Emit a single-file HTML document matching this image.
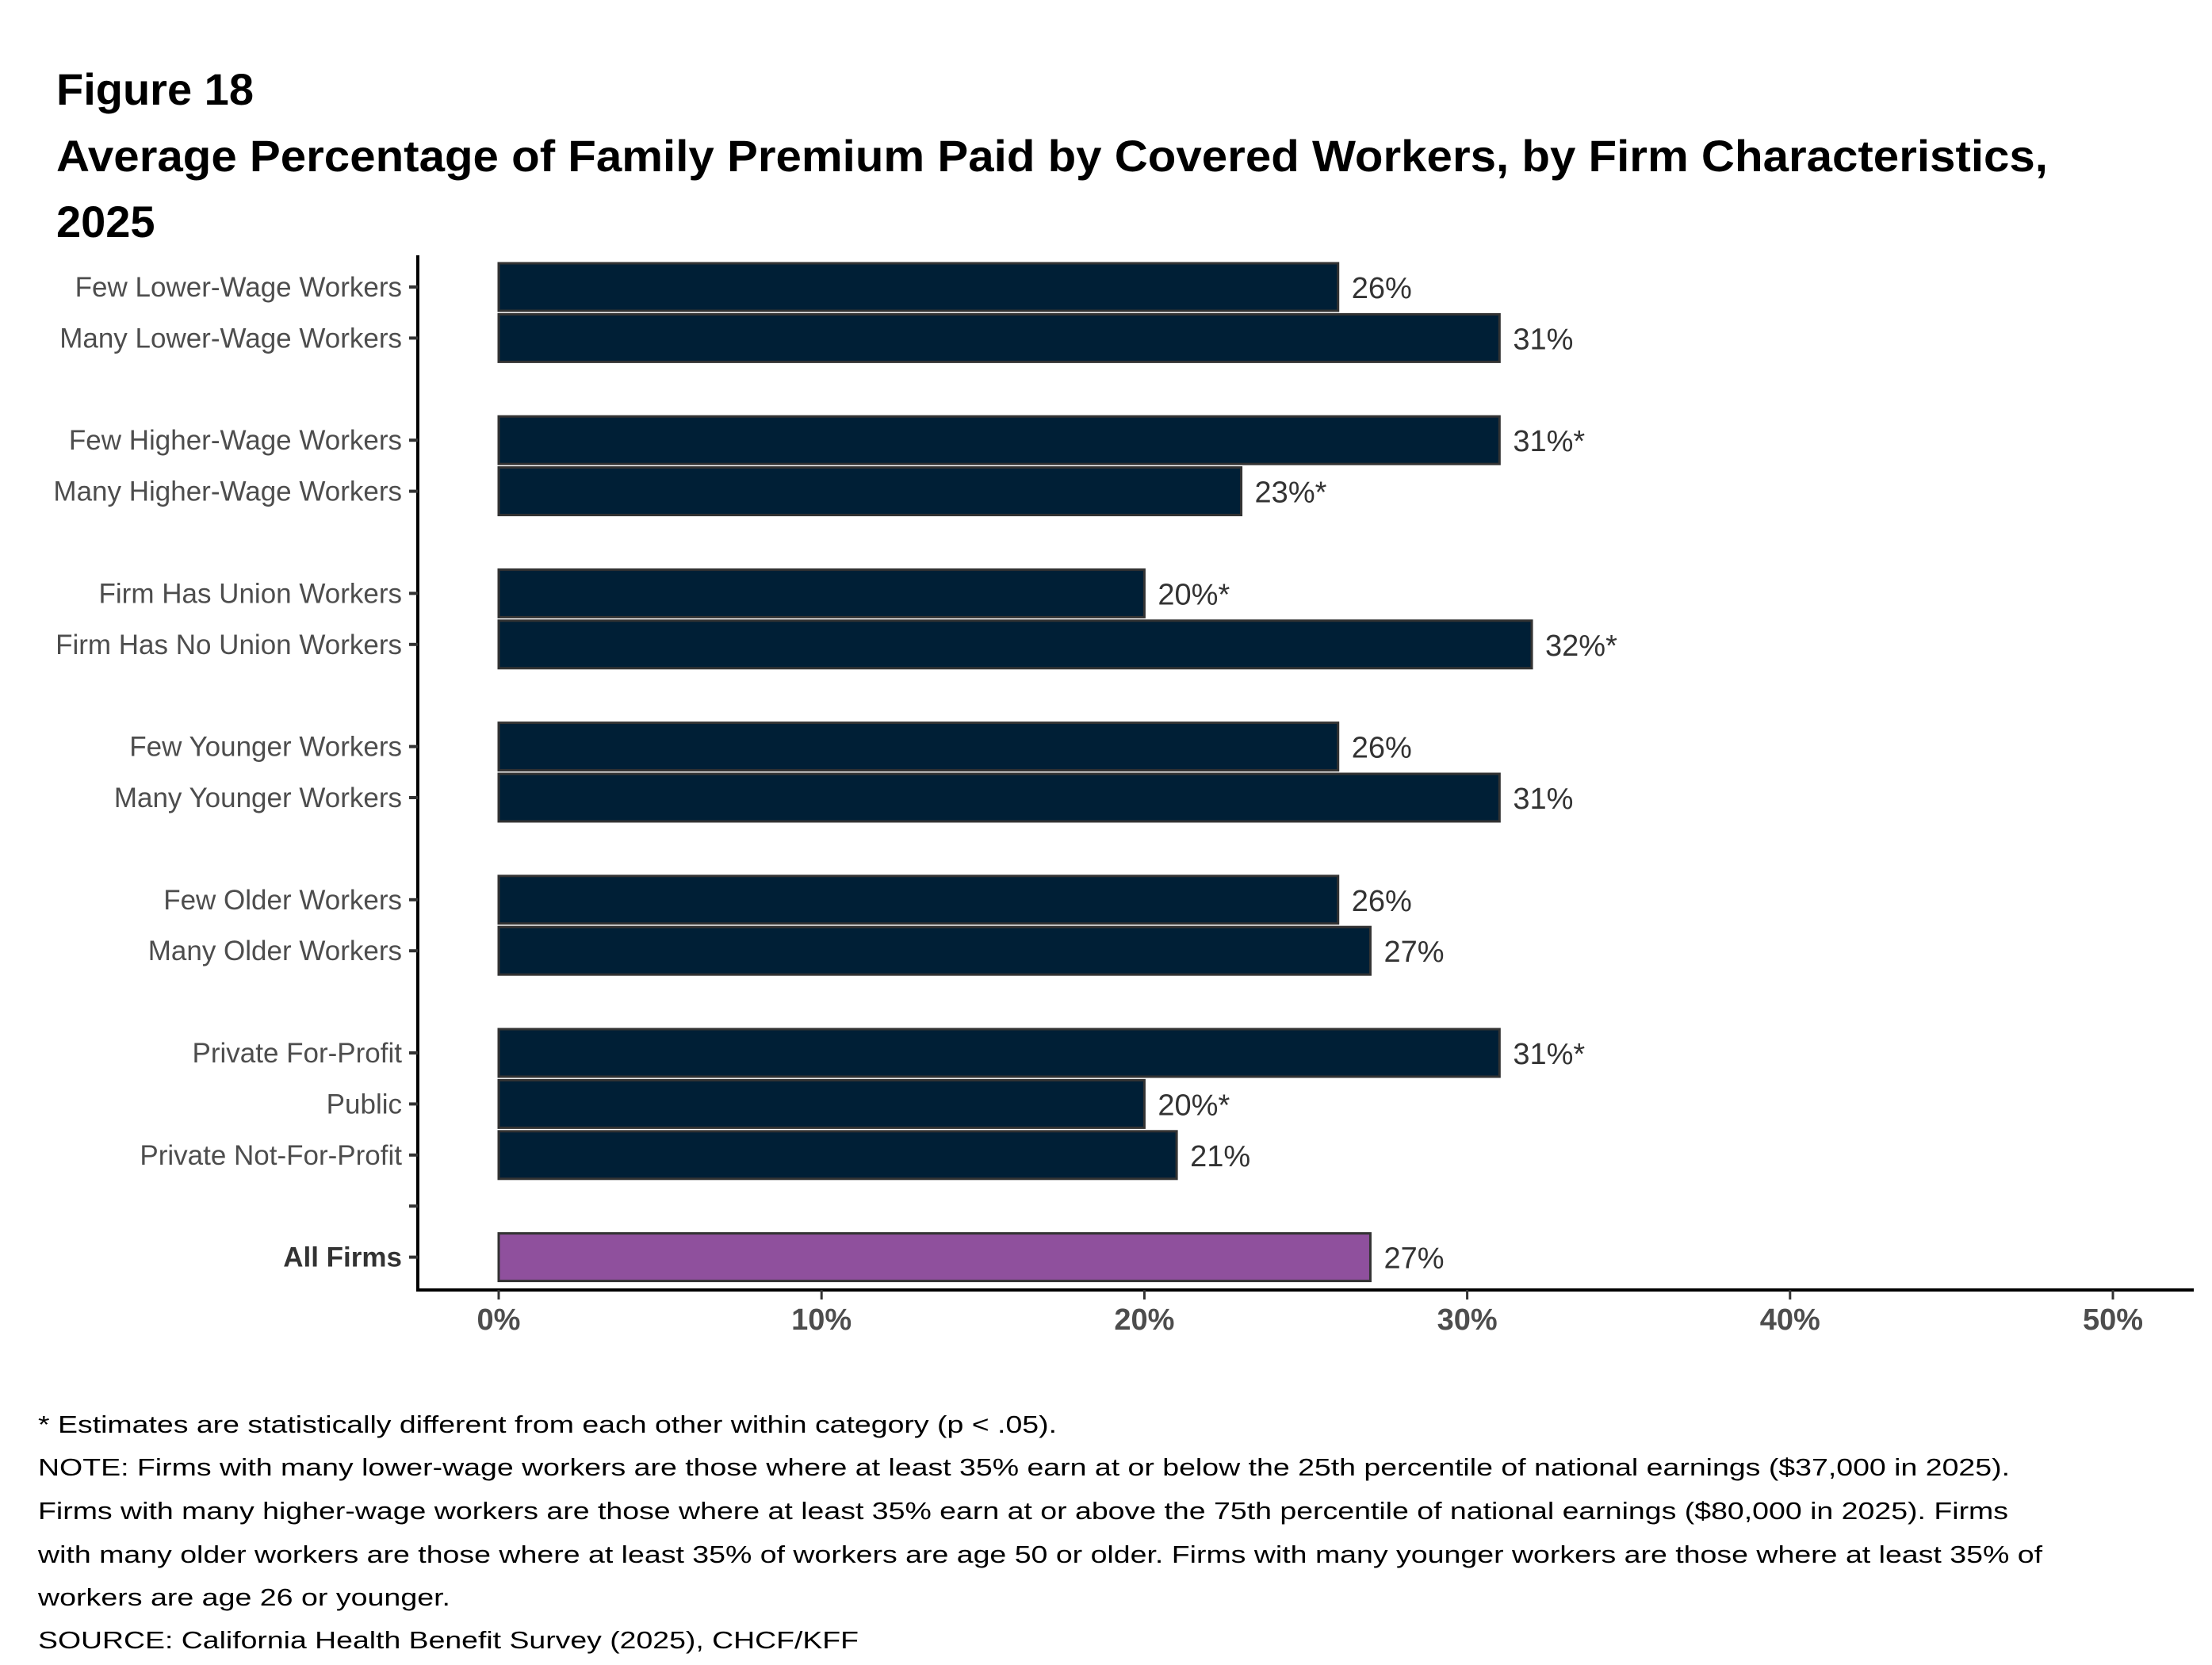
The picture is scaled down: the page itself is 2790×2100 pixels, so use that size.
<!DOCTYPE html>
<html><head><meta charset="utf-8"><style>
html,body{margin:0;padding:0;background:#fff;}
svg{display:block;font-family:"Liberation Sans",Arial,sans-serif;}
</style></head><body>
<svg id="chart" width="2790" height="2100" viewBox="0 0 2790 2100" xmlns="http://www.w3.org/2000/svg">
<g font-weight="bold" font-size="56" fill="#000">
<text x="71" y="132">Figure 18</text>
<text x="71" y="216" textLength="2512" lengthAdjust="spacingAndGlyphs">Average Percentage of Family Premium Paid by Covered Workers, by Firm Characteristics,</text>
<text x="71" y="299">2025</text>
</g>
<g id="plot"></g>
<g font-size="31" fill="#000">
<text x="48" y="1807" textLength="1285" lengthAdjust="spacingAndGlyphs">* Estimates are statistically different from each other within category (p &lt; .05).</text>
<text x="48" y="1861" textLength="2487" lengthAdjust="spacingAndGlyphs">NOTE: Firms with many lower-wage workers are those where at least 35% earn at or below the 25th percentile of national earnings ($37,000 in 2025).</text>
<text x="48" y="1916" textLength="2485" lengthAdjust="spacingAndGlyphs">Firms with many higher-wage workers are those where at least 35% earn at or above the 75th percentile of national earnings ($80,000 in 2025). Firms</text>
<text x="48" y="1971" textLength="2528" lengthAdjust="spacingAndGlyphs">with many older workers are those where at least 35% of workers are age 50 or older. Firms with many younger workers are those where at least 35% of</text>
<text x="48" y="2025" textLength="520" lengthAdjust="spacingAndGlyphs">workers are age 26 or younger.</text>
<text x="48" y="2079" textLength="1035" lengthAdjust="spacingAndGlyphs">SOURCE: California Health Benefit Survey (2025), CHCF/KFF</text>
</g>
</svg>
<script>
const categories = ["Few Lower-Wage Workers","Many Lower-Wage Workers","Few Higher-Wage Workers","Many Higher-Wage Workers","Firm Has Union Workers","Firm Has No Union Workers","Few Younger Workers","Many Younger Workers","Few Older Workers","Many Older Workers","Private For-Profit","Public","Private Not-For-Profit","All Firms"];
const values = [26,31,31,23,20,32,26,31,26,27,31,20,21,27];
const valueLabels = ["26%","31%","31%*","23%*","20%*","32%*","26%","31%","26%","27%","31%*","20%*","21%","27%"];
const slots = [0,1,3,4,6,7,9,10,12,13,15,16,17,19];
const xTicks = [0,10,20,30,40,50];
const xTickLabels = ["0%","10%","20%","30%","40%","50%"];

const NS = "http://www.w3.org/2000/svg";
const plot = document.getElementById("plot");
const x = v => 629 + v * 40.72;
const y = s => 362 + s * 64.4;
function mk(tag, attrs){const e=document.createElementNS(NS,tag);for(const k in attrs)e.setAttribute(k,attrs[k]);plot.appendChild(e);return e;}

const ya = mk("line",{x1:527,y1:322,x2:527,y2:1627,stroke:"#000","stroke-width":4});


const xa = mk("line",{x1:525,y1:1627,x2:2767,y2:1627,stroke:"#000","stroke-width":4});


const et = mk("line",{x1:516,y1:y(18),x2:527,y2:y(18),stroke:"#333","stroke-width":4});



categories.forEach((c,i)=>{
  const cy = y(slots[i]);
  const last = i === categories.length-1;
  const r = mk("rect",{x:x(0),y:cy-30,width:x(values[i])-x(0),height:60,fill:last?"#8f509d":"#001f36",stroke:"#333","stroke-width":3});
  
  
  const t = mk("line",{x1:516,y1:cy,x2:527,y2:cy,stroke:"#333","stroke-width":4});
  
  
  const l = mk("text",{x:507,y:cy+12,"text-anchor":"end","font-size":35,fill:last?"#333":"#4d4d4d","font-weight":last?"bold":"normal"});
  l.textContent = c;
  
  
  const v = mk("text",{x:x(values[i])+17,y:cy+14,"font-size":38,fill:"#333"});
  v.textContent = valueLabels[i];
  
  
});

xTicks.forEach((t,i)=>{
  const tk = mk("line",{x1:x(t),y1:1627,x2:x(t),y2:1639,stroke:"#333","stroke-width":3});
  
  
  const tl = mk("text",{x:x(t),y:1677,"text-anchor":"middle","font-size":38,"font-weight":"bold",fill:"#4d4d4d"});
  tl.textContent = xTickLabels[i];
  
  
});
</script>
</body></html>
